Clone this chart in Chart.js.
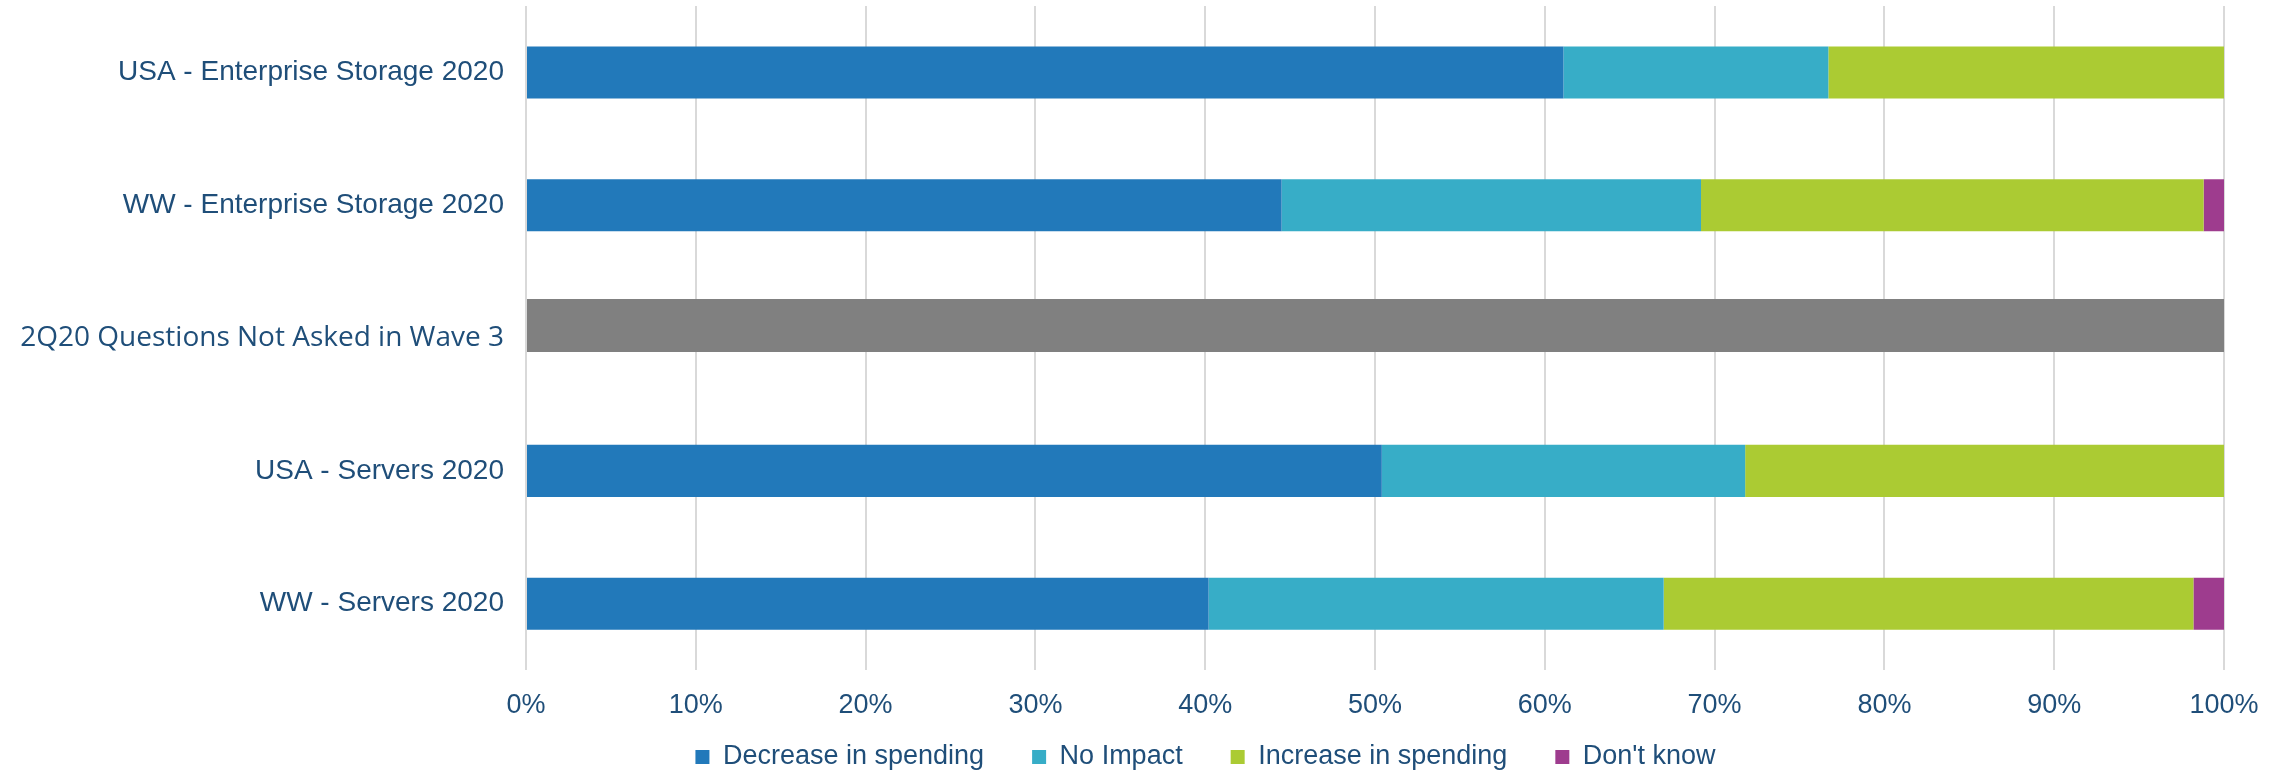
<!DOCTYPE html>
<html>
<head>
<meta charset="utf-8">
<script src="https://cdn.jsdelivr.net/npm/chart.js@4"></script>
<style>
  html, body { margin: 0; padding: 0; background: #fff; }
  #wrap { width: 2280px; height: 774px; }
</style>
</head>
<body>
<div id="wrap"><canvas id="myChart"></canvas></div>
<script>
const categories = [
  'USA - Enterprise Storage 2020',
  'WW - Enterprise Storage 2020',
  '2Q20 Questions Not Asked in Wave 3',
  'USA - Servers 2020',
  'WW - Servers 2020'
];
const decrease = [61.1, 44.5, null, 50.4, 40.2];
const noImpact = [15.6, 24.7, null, 21.4, 26.8];
const increase = [23.3, 29.6, null, 28.2, 31.2];
const dontKnow = [0, 1.2, null, 0, 1.8];
const notAsked = [null, null, 100, null, null];
// empty slot next to the grey bar, so it sits a little above its row centre like in the original
const spacer = [null, null, 0, null, null];
const xTicks = [0, 10, 20, 30, 40, 50, 60, 70, 80, 90, 100];

const textColor = '#1F4E79';

// legend sits centred under the whole picture, not under the plot
const legendShift = {
  id: 'legendShift',
  afterLayout(chart) {
    const lg = chart.legend;
    if (lg) { lg.left += 116; lg.right += 116; }
  }
};

const ctx = document.getElementById('myChart').getContext('2d');
const myChart = new Chart(ctx, {
  type: 'bar',
  data: {
    labels: categories,
    datasets: [
      { label: 'Decrease in spending', data: decrease, backgroundColor: '#2279BA', stack: 'main' },
      { label: 'No Impact', data: noImpact, backgroundColor: '#37ADC7', stack: 'main' },
      { label: 'Increase in spending', data: increase, backgroundColor: '#ABCB33', stack: 'main' },
      { label: "Don't know", data: dontKnow, backgroundColor: '#9E3C8E', stack: 'main' },
      { label: 'Not asked', data: notAsked, backgroundColor: '#808080', stack: 'grey',
        categoryPercentage: 0.377, barPercentage: 2.12 },
      { label: 'spacer', data: spacer, backgroundColor: 'rgba(0,0,0,0)', stack: 'spacer',
        categoryPercentage: 0.377, barPercentage: 2.12 }
    ]
  },
  plugins: [legendShift],
  options: {
    indexAxis: 'y',
    responsive: true,
    maintainAspectRatio: false,
    animation: false,
    layout: { padding: { top: 6, right: 56, left: 0, bottom: -6.5 } },
    datasets: {
      bar: { categoryPercentage: 0.8, barPercentage: 0.49, skipNull: true }
    },
    scales: {
      x: {
        stacked: true,
        min: 0,
        max: 100,
        afterBuildTicks: function (scale) {
          scale.ticks = xTicks.map(v => ({ value: v }));
        },
        ticks: {
          color: textColor,
          padding: 19,
          font: { family: 'Liberation Sans', size: 27 },
          callback: v => v + '%'
        },
        grid: { color: '#D9D9D9', lineWidth: 2, drawTicks: false },
        border: { display: false }
      },
      y: {
        stacked: true,
        afterFit: function (scale) {
          scale.width = 526;
          scale.paddingTop = 0;
          scale.paddingBottom = 0;
        },
        ticks: {
          color: textColor,
          padding: 22,
          font: function (c) {
            if (c.index === 2) return { family: 'Open Sans', size: 28 };
            return { family: 'Liberation Sans', size: 28 };
          }
        },
        grid: { display: false, drawTicks: false },
        border: { display: false }
      }
    },
    plugins: {
      tooltip: { enabled: false },
      legend: {
        position: 'bottom',
        labels: {
          color: textColor,
          font: { family: 'Liberation Sans', size: 27 },
          boxWidth: 14,
          boxHeight: 14,
          padding: 3,
          generateLabels: function (chart) {
            const items = Chart.defaults.plugins.legend.labels.generateLabels(chart);
            items.forEach(it => { it.text = it.text + '      '; });
            return items;
          },
          filter: item => item.datasetIndex < 4
        }
      }
    }
  }
});
</script>
</body>
</html>
